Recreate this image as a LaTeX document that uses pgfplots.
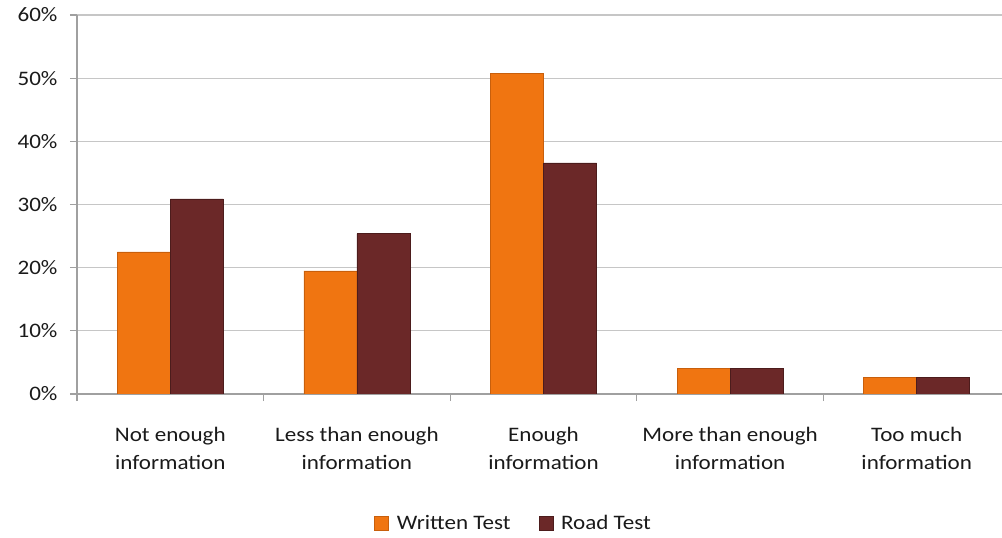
\documentclass[border=0pt]{standalone}
\usepackage{pgfplots}
\pgfplotsset{compat=1.18}
\usepackage{fontspec}
\setmainfont{Carlito}[FakeStretch=1.12]
\definecolor{wt}{HTML}{F07511}
\definecolor{wtd}{HTML}{C85F0C}
\definecolor{rt}{HTML}{6B2828}
\definecolor{rtd}{HTML}{4C1C1C}
\definecolor{gridc}{HTML}{C6C6C6}
\definecolor{axc}{HTML}{A0A0A0}
\definecolor{txt}{HTML}{1A1A1A}
\begin{document}
\begin{tikzpicture}
\useasboundingbox (-77pt,-144pt) rectangle (925pt,394pt);
\begin{axis}[
  at={(0pt,0pt)}, anchor=south west,
  scale only axis, width=933pt, height=379pt,
  ybar=0pt, bar width=53pt,
  xmin=-0.5, xmax=4.5, ymin=0, ymax=60,
  axis x line*=bottom, axis y line*=left,
  axis line style={draw=axc, line width=1.2pt, -},
  every outer x axis line/.append style={-},
  every outer y axis line/.append style={-},
  tick align=outside, major tick length=7pt,
  tick style={draw=axc, line width=1.2pt},
  ytick={0,10,20,30,40,50,60},
  yticklabels={0\%,10\%,20\%,30\%,40\%,50\%,60\%},
  ymajorgrids, major grid style={draw=gridc, line width=1.3pt},
  xtick={-0.5,0.5,1.5,2.5,3.5,4.5},
  xticklabels={},
  extra x ticks={0,1,2,3,4},
  extra x tick labels={{Not enough\\information},{Less than enough\\information},{Enough\\information},{More than enough\\information},{Too much\\information}},
  extra x tick style={major tick length=0pt, grid=none,
    xticklabel style={align=center, anchor=north, yshift=-30pt}},
  ticklabel style={font=\fontsize{20.6}{28}\selectfont, text=txt},
  yticklabel style={xshift=-9pt},
  legend style={at={(0.468,-0.340)}, anchor=center, draw=none, fill=none,
    font=\fontsize{20.6}{24}\selectfont, text=txt,
    legend columns=2,
    /tikz/every odd column/.append style={column sep=6pt},
    /tikz/every even column/.append style={column sep=26pt}},
  legend image code/.code={\fill[#1] (0pt,-7pt) rectangle (14pt,7pt);},
]
\addplot[fill=wt, draw=wtd, line width=0.6pt] coordinates {(0,22.5) (1,19.5) (2,50.8) (3,4.1) (4,2.6)};
\addplot[fill=rt, draw=rtd, line width=0.6pt] coordinates {(0,30.9) (1,25.4) (2,36.6) (3,4.1) (4,2.6)};
\legend{Written Test, Road Test}
\end{axis}
\end{tikzpicture}
\end{document}
